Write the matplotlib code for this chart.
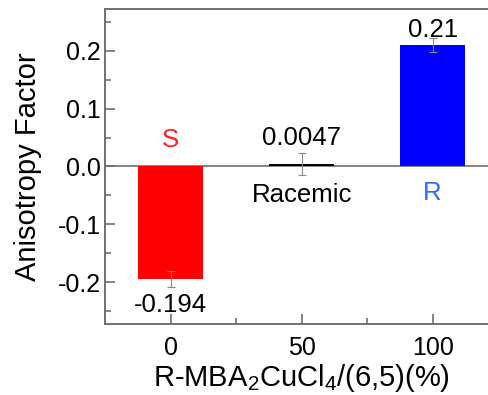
import matplotlib
matplotlib.use("Agg")
import matplotlib.pyplot as plt
from matplotlib.ticker import MultipleLocator

plt.rcParams["font.family"] = ["Liberation Sans", "DejaVu Sans"]
plt.rcParams["mathtext.default"] = "regular"

# data
fractions = [0, 50, 100]
anisotropy = [-0.194, 0.0047, 0.21]
errors = [0.014, 0.019, 0.012]
value_labels = ["-0.194", "0.0047", "0.21"]
bar_colors = ["#ff0000", "#000000", "#0000ff"]
names = ["S", "Racemic", "R"]
name_colors = ["#ff2020", "#000000", "#2a6cff"]

fig = plt.figure(figsize=(4.89, 3.95), dpi=100)
ax = fig.add_axes([0.2147, 0.18, 0.804, 0.797])

ax.axhline(0, color="#707070", linewidth=1.2, zorder=1)
ax.bar(fractions, anisotropy, width=25, color=bar_colors, zorder=2)
ax.errorbar(fractions, anisotropy, yerr=errors, fmt="none",
            ecolor="#8a8a8a", elinewidth=0.8, capsize=3, capthick=0.8, zorder=3)

fs = 18.5
# value labels
ax.text(0, -0.24, value_labels[0], ha="center", va="center", fontsize=fs)
ax.text(50, 0.05, value_labels[1], ha="center", va="center", fontsize=fs)
ax.text(100, 0.236, value_labels[2], ha="center", va="center", fontsize=fs)

# sample names
ax.text(0, 0.045, names[0], color=name_colors[0], ha="center", va="center", fontsize=fs)
ax.text(50, -0.05, names[1], color=name_colors[1], ha="center", va="center", fontsize=fs)
ax.text(100, -0.045, names[2], color=name_colors[2], ha="center", va="center", fontsize=fs)

ax.set_xlim(-25, 125)
ax.set_ylim(-0.272, 0.272)
ax.set_xticks(fractions)
ax.xaxis.set_minor_locator(MultipleLocator(25))
ax.set_yticks([-0.2, -0.1, 0.0, 0.1, 0.2])
ax.set_yticklabels(["-0.2", "-0.1", "0.0", "0.1", "0.2"])
ax.yaxis.set_minor_locator(MultipleLocator(0.05))

ax.tick_params(which="both", direction="in", color="#707070", labelsize=18, width=1.2)
ax.tick_params(which="major", length=7)
ax.tick_params(which="minor", length=4)
ax.tick_params(axis="x", which="major", pad=9)
ax.tick_params(axis="y", which="major", pad=3)
for spine in ax.spines.values():
    spine.set_color("#707070")
    spine.set_linewidth(1.4)

ax.set_xlabel("R-MBA$_2$CuCl$_4$/(6,5)(%)", fontsize=21, labelpad=1)
ax.set_ylabel("Anisotropy Factor", fontsize=21, labelpad=11)

fig.savefig("out.png", dpi=100)
